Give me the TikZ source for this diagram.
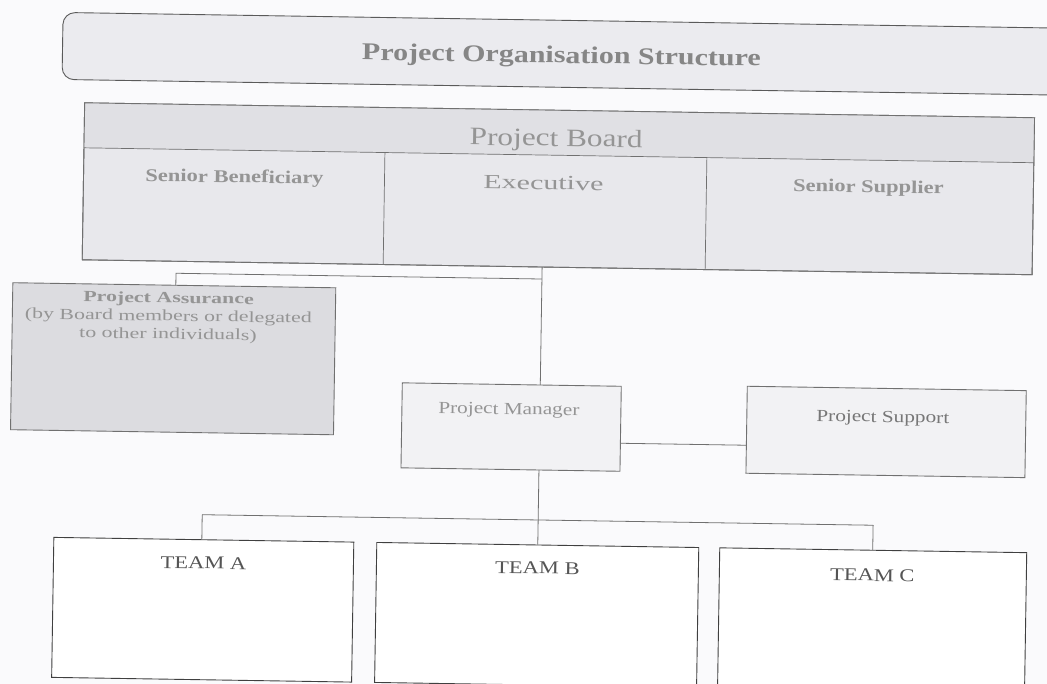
\documentclass[tikz,border=0pt]{standalone}
\usepackage{fontspec}
\setmainfont{Liberation Serif}
\definecolor{bgc}{HTML}{FAFAFC}
\definecolor{titlefill}{HTML}{EBEBEF}
\definecolor{boardfill}{HTML}{E8E8EC}
\definecolor{headfill}{HTML}{E0E0E4}
\definecolor{assfill}{HTML}{DCDCE0}
\definecolor{pmfill}{HTML}{F2F2F4}
\definecolor{edge}{HTML}{707070}
\definecolor{txtgrey}{HTML}{959595}
\definecolor{teamtxt}{HTML}{555555}
\tikzset{
  box/.style={rectangle, draw=edge, line width=0.9pt, inner sep=0pt, transform shape},
  lbl/.style={inner sep=0pt, text=txtgrey, xscale=1.25, transform shape, align=center},
  conn/.style={draw=edge, line width=0.8pt},
}
\begin{document}
\begin{tikzpicture}[x=1pt,y=-1pt]
\fill[bgc] (0,0) rectangle (1047,684);
\useasboundingbox (0,0) rectangle (1047,684);
\clip (0,0) rectangle (1047,684);
\begin{scope}[rotate around={-0.9:(540,340)}]
% title
\node[box, rounded corners=12pt, fill=titlefill, minimum width=1017pt, minimum height=67pt, draw=edge!80!black] (title) at (566.5,53.5) {};
\node[lbl, text=txtgrey!90!black, font=\fontsize{24}{26}\selectfont\bfseries] (titletxt) at (557,57) {Project Organisation Structure};
% board
\node[box, fill=boardfill, minimum width=950pt, minimum height=157pt] (board) at (556,188.5) {};
\fill[headfill] (81,110) rectangle (1031,155);
\draw[edge, line width=0.9pt] (81,110) rectangle (1031,267);
\draw[edge, line width=0.7pt] (81,155) -- (1031,155);
\draw[edge, line width=0.7pt] (382,155) -- (382,267);
\draw[edge, line width=0.7pt] (704,155) -- (704,267);
\node[lbl, font=\fontsize{25}{27}\selectfont] (boardtxt) at (553,140) {Project Board};
\node[lbl, font=\fontsize{18}{20}\selectfont\bfseries] (sb) at (232,183) {Senior Beneficiary};
\node[lbl, xscale=1.2, font=\fontsize{20}{22}\selectfont] (ex) at (541,183) {Executive};
\node[lbl, font=\fontsize{18}{20}\selectfont\bfseries] (ss) at (866,183) {Senior Supplier};
% assurance
\node[box, fill=assfill, minimum width=323pt, minimum height=147pt] (pa) at (173.5,364.5) {};
\node[lbl, xscale=1.13, font=\fontsize{15.5}{18}\selectfont] (patxt) at (168,323) {\textbf{Project Assurance}\\(by Board members or delegated\\to other individuals)};
% manager & support
\node[box, fill=pmfill, minimum width=219pt, minimum height=85pt] (pm) at (512.5,427.5) {};
\node[lbl, font=\fontsize{17}{18}\selectfont] (pmtxt) at (510,411) {Project Manager};
\node[box, fill=pmfill, minimum width=279pt, minimum height=87pt] (ps) at (887.5,426.5) {};
\node[lbl, text=txtgrey!80!black, font=\fontsize{17}{18}\selectfont] (pstxt) at (884,413) {Project Support};
% teams
\node[box, fill=white, draw=black!75, minimum width=300pt, minimum height=140pt] (ta) at (207,615) {};
\node[box, fill=white, draw=black!75, minimum width=322pt, minimum height=140pt] (tb) at (541,615) {};
\node[box, fill=white, draw=black!75, minimum width=307pt, minimum height=140pt] (tc) at (876.5,615) {};
\node[lbl, text=teamtxt, font=\fontsize{18}{20}\selectfont] (tatxt) at (207,568) {TEAM A};
\node[lbl, text=teamtxt, font=\fontsize{18}{20}\selectfont] (tbtxt) at (541,568) {TEAM B};
\node[lbl, text=teamtxt, font=\fontsize{18}{20}\selectfont] (tctxt) at (876,570) {TEAM C};
% connectors
\coordinate (bs) at (541,267);
\coordinate (pmn) at (541,385);
\coordinate (pms) at (541,470);
\coordinate (j1) at (541,279);
\coordinate (j2) at (175,279);
\coordinate (j2e) at (175,291);
\coordinate (j3a) at (622,442);
\coordinate (j3b) at (748,442);
\coordinate (j4) at (205,520);
\coordinate (j5) at (876,520);
\coordinate (j4e) at (205,545);
\coordinate (j5e) at (876,545);
\draw[conn] (bs) -- (pmn);
\draw[conn] (j1) -- (j2) -- (j2e);
\draw[conn] (j3a) -- (j3b);
\draw[conn] (pms) -- (tb.north);
\draw[conn] (j4) -- (j5);
\draw[conn] (j4) -- (j4e);
\draw[conn] (j5) -- (j5e);
\end{scope}
\end{tikzpicture}
\end{document}
